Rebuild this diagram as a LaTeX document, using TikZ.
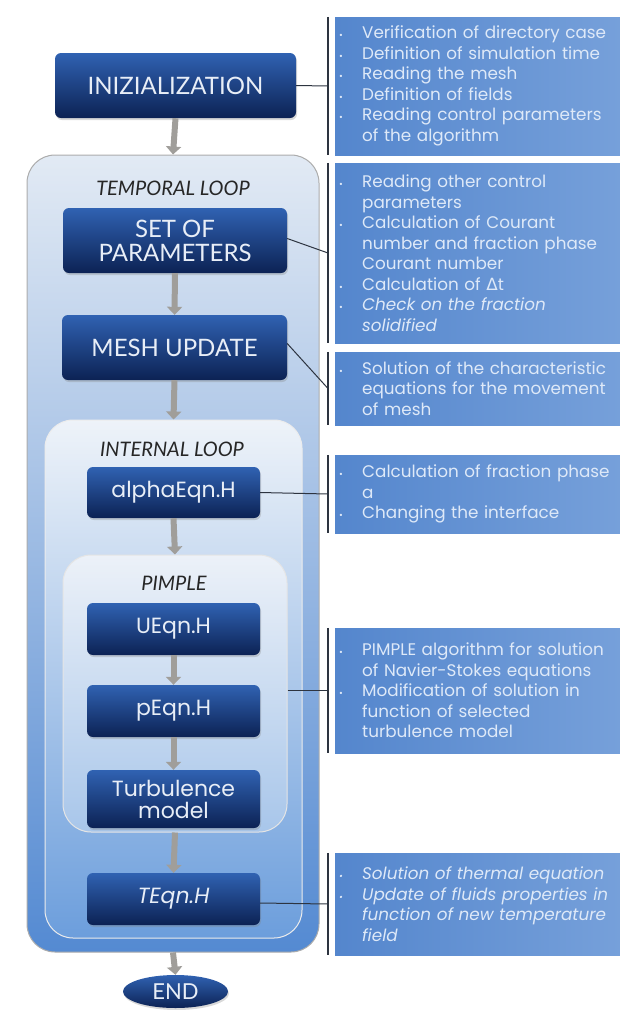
\documentclass[tikz,border=0pt]{standalone}
\usepackage{fontspec}
\setmainfont{Poppins}
\newfontfamily\gill{Lato}
\newfontfamily\dejavu{DejaVu Sans}
\usetikzlibrary{arrows.meta,shapes.geometric,shadows}

\definecolor{navy}{RGB}{12,34,84}
\definecolor{midblue}{RGB}{48,98,178}
\definecolor{boxtext}{RGB}{232,238,247}
\definecolor{infoblue}{RGB}{84,134,205}
\definecolor{infolight}{RGB}{118,160,218}
\definecolor{infotext}{RGB}{222,233,248}
\definecolor{looptop}{RGB}{226,234,244}
\definecolor{loopbot}{RGB}{84,138,210}
\definecolor{innertop}{RGB}{238,243,249}
\definecolor{innerbot}{RGB}{108,158,220}
\definecolor{pimpletop}{RGB}{236,241,248}
\definecolor{pimplebot}{RGB}{168,198,234}
\definecolor{arrowgray}{RGB}{160,158,154}
\definecolor{linkgray}{RGB}{45,52,64}

% bullet and indent for the info boxes
\newcommand{\bul}{\makebox[27pt][l]{\hspace{4pt}\scalebox{0.55}{\textbullet}}}
\newcommand{\nob}{\hspace*{27pt}}

\begin{document}
\begin{tikzpicture}[x=1pt, y=-1pt,
    blockbox/.style={rounded corners=6pt, top color=midblue, bottom color=navy,
      text=boxtext, inner sep=0pt, align=center,
      drop shadow={opacity=0.3, shadow xshift=1pt, shadow yshift=-2pt}},
    capsfont/.style={font=\gill\fontsize{24}{27}\selectfont},
    codefont/.style={font=\fontsize{22}{26}\selectfont},
    loopbox/.style={rounded corners=28pt, draw=gray!65, line width=1pt},
    looplabel/.style={font=\gill\itshape\fontsize{20}{22}\selectfont, text=black!85},
    infobox/.style={anchor=west, left color=infoblue, right color=infolight,
      text=infotext, inner xsep=0pt, inner ysep=0pt, text width=285pt,
      minimum width=285pt, align=left, font=\fontsize{16.8}{20.5}\selectfont},
    bracket/.style={draw=linkgray, line width=1.6pt},
    link/.style={draw=linkgray, line width=1pt},
    flowarrow/.style={draw=arrowgray, line width=6pt, -{Triangle[width=15pt,length=8pt]}}]
  \useasboundingbox (0,0) rectangle (620,1010);

  % Loops
  \node[loopbox, top color=looptop, bottom color=loopbot,
    minimum width=292pt, minimum height=797pt] (tloop) at (173,553.5) {};
  \node[looplabel] (tlabel) at (173,188) {TEMPORAL LOOP};
  \node[loopbox, draw=white!85!gray, top color=innertop, bottom color=innerbot,
    minimum width=257pt, minimum height=518pt] (iloop) at (173.5,679) {};
  \node[looplabel] (ilabel) at (172,449) {INTERNAL LOOP};
  \node[loopbox, draw=white!80!gray, top color=pimpletop, bottom color=pimplebot,
    minimum width=224pt, minimum height=277pt] (pimple) at (175,693.5) {};
  \node[looplabel] (plabel) at (174,583) {PIMPLE};

  % Blocks
  \node[blockbox, capsfont, minimum width=241pt, minimum height=65pt] (init) at (175.5,85.5) {INIZIALIZATION};
  \node[blockbox, capsfont, minimum width=224pt, minimum height=65pt] (setp) at (175,240.5) {SET OF\\[-3pt]PARAMETERS};
  \node[blockbox, capsfont, minimum width=225pt, minimum height=65pt] (mesh) at (174.5,347.5) {MESH UPDATE};
  \node[blockbox, codefont, minimum width=173pt, minimum height=51pt] (alpha) at (173.5,492.5) {alphaEqn.H};
  \node[blockbox, codefont, minimum width=173pt, minimum height=52pt] (ueqn) at (173.5,629) {UEqn.H};
  \node[blockbox, codefont, minimum width=173pt, minimum height=52pt] (peqn) at (173.5,711) {pEqn.H};
  \node[blockbox, codefont, minimum width=173pt, minimum height=58pt] (turb) at (173.5,799) {Turbulence\\[-4pt]model};
  \node[blockbox, codefont, font=\itshape\fontsize{22}{26}\selectfont,
    minimum width=173pt, minimum height=52pt] (teqn) at (173.5,899) {TEqn.H};
  \node[blockbox, capsfont, shape=ellipse, font=\gill\fontsize{22}{24}\selectfont,
    minimum width=105pt, minimum height=33pt] (endn) at (175.5,991.5) {END};

  % Flow arrows
  \draw[flowarrow] (init.south) -- (tloop.north);
  \draw[flowarrow] (setp.south) -- (mesh.north);
  \draw[flowarrow] (mesh.south) -- (iloop.north);
  \draw[flowarrow] (alpha.south) -- (pimple.north);
  \draw[flowarrow] (ueqn.south) -- (peqn.north);
  \draw[flowarrow] (peqn.south) -- (turb.north);
  \draw[flowarrow] (pimple.south) -- (teqn.north);
  \draw[flowarrow] (tloop.south) -- (endn.north);

  % Info boxes
  \node[infobox, minimum height=138pt] (info1) at (335,86) {%
    \bul Verification of directory case\\
    \bul Definition of simulation time\\
    \bul Reading the mesh\\
    \bul Definition of fields\\
    \bul Reading control parameters\\
    \nob of the algorithm};
  \node[infobox, minimum height=180pt] (info2) at (335,253) {%
    \bul Reading other control\\
    \nob parameters\\
    \bul Calculation of Courant\\
    \nob number and fraction phase\\
    \nob Courant number\\
    \bul Calculation of {\dejavu Δ}t\\
    \bul \textit{Check on the fraction}\\
    \nob \textit{solidified}};
  \node[infobox, minimum height=73pt] (info3) at (335,388.5) {%
    \bul Solution of the characteristic\\
    \nob equations for the movement\\
    \nob of mesh};
  \node[infobox, minimum height=78pt] (info4) at (335,494) {%
    \bul Calculation of fraction phase\\
    \nob a\\
    \bul Changing the interface};
  \node[infobox, minimum height=125pt] (info5) at (335,690.5) {%
    \bul PIMPLE algorithm for solution\\
    \nob of Navier-Stokes equations\\
    \bul Modification of solution in\\
    \nob function of selected\\
    \nob turbulence model};
  \node[infobox, minimum height=102pt, font=\itshape\fontsize{16.8}{20.5}\selectfont] (info6) at (335,904) {%
    \bul Solution of thermal equation\\
    \bul Update of fluids properties in\\
    \nob function of new temperature\\
    \nob field};

  % Brackets and links
  \foreach \i in {1,...,6} {
    \draw[bracket] ([xshift=-7pt]info\i.north west) -- ([xshift=-7pt]info\i.south west);
    \coordinate (b\i) at ([xshift=-7pt]info\i.west);
  }
  \draw[link] (init.east) -- (b1);
  \draw[link] ([yshift=2pt]setp.east) -- (b2);
  \draw[link] ([yshift=4pt]mesh.east) -- (b3);
  \draw[link] (alpha.east) -- (b4);
  \draw[link] (pimple.east |- b5) -- (b5);
  \draw[link] ([yshift=-4pt]teqn.east) -- (b6);
\end{tikzpicture}
\end{document}
